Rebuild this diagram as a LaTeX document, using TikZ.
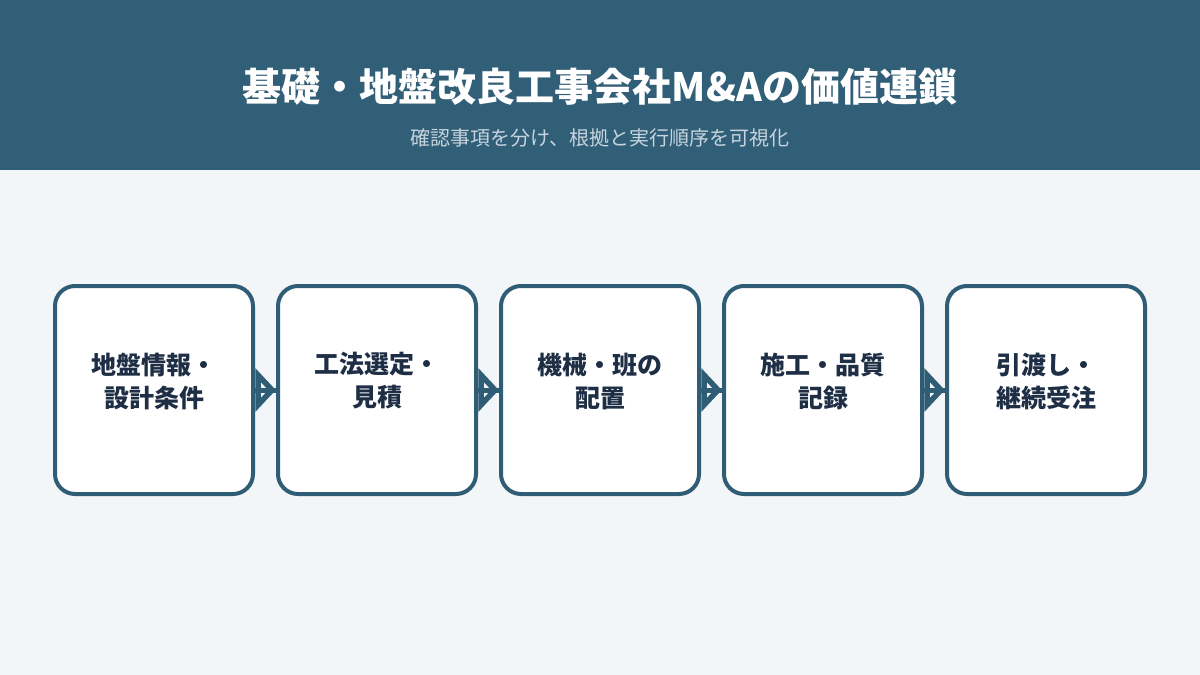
\documentclass[tikz,border=0pt]{standalone}
\usepackage{fontspec}
\setmainfont{Noto Sans CJK JP}
\usetikzlibrary{calc}
\definecolor{hdr}{HTML}{325F78}
\definecolor{bg}{HTML}{F3F6F8}
\definecolor{bord}{HTML}{305D76}
\definecolor{txt}{HTML}{1E2F45}
\definecolor{sub}{HTML}{C5D4DE}
\tikzset{
  stepbox/.style={draw=bord, line width=4pt, fill=white, rounded corners=20pt,
    minimum width=198pt, minimum height=208pt, inner sep=0pt},
  steplabel/.style={text=txt, font=\fontsize{25pt}{33pt}\selectfont\bfseries, align=center, inner sep=0pt},
  flow/.style={draw=bord, line width=5pt},
  flowtip/.style={draw=bord, line width=5.5pt, line join=miter}
}
\begin{document}
\begin{tikzpicture}[x=1pt, y=-1pt]
\useasboundingbox (0,0) rectangle (1200,675);
\fill[bg] (0,0) rectangle (1200,675);
\fill[hdr] (0,0) rectangle (1200,170);
\node[text=white, font=\fontsize{39pt}{44pt}\selectfont\bfseries, inner sep=0pt] (title) at (600,87) {基礎・地盤改良工事会社M\&Aの価値連鎖};
\node[text=sub, font=\fontsize{20pt}{24pt}\selectfont, inner sep=0pt] (subtitle) at (600,138) {確認事項を分け、根拠と実行順序を可視化};
\foreach \i/\x in {1/154,2/377,3/600,4/823,5/1046} {
  \node[stepbox] (b\i) at (\x,390) {};
}
\node[steplabel] (t1) at (154,381) {地盤情報・\\設計条件};
\node[steplabel] (t2) at (377,381) {工法選定・\\見積};
\node[steplabel] (t3) at (600,381) {機械・班の\\配置};
\node[steplabel] (t4) at (823,381) {施工・品質\\記録};
\node[steplabel] (t5) at (1046,381) {引渡し・\\継続受注};
\foreach \a/\b in {1/2,2/3,3/4,4/5} {
  \draw[flow] (b\a.east) -- (b\b.west);
  \draw[flowtip] ($(b\a.east)+(3,-15)$) -- ($(b\b.west)+(-4,0)$) -- ($(b\a.east)+(3,15)$) -- cycle;
}
\end{tikzpicture}
\end{document}
